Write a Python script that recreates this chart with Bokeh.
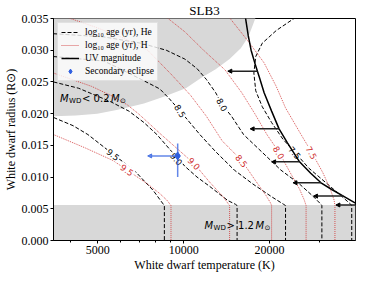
from bokeh.plotting import figure
from bokeh.models import (Range1d, FixedTicker, NumeralTickFormatter, Legend, LegendItem,
                          Arrow, NormalHead, ColumnDataSource)
from bokeh.core.properties import value
from bokeh.embed import file_html
from bokeh.resources import INLINE

# ---------------- data ----------------
x_min, x_max = 3500, 40000
y_min, y_max = 0.0, 0.035
x_major = [5000, 10000, 20000]
x_minor = [4000, 6000, 7000, 8000, 9000, 30000]
y_ticks = [0.0, 0.005, 0.010, 0.015, 0.020, 0.025, 0.030, 0.035]

# He-atmosphere isochrones (log10 age), black dashed
he_95_T = [3500, 4100, 4620, 5660, 6730, 7820, 8430, 8560, 8560]
he_95_R = [0.0194, 0.0181, 0.0167, 0.0136, 0.0110, 0.0079, 0.0059, 0.0055, 0.0]
he_90_T = [3500, 4290, 5540, 6430, 7260, 8060, 9090, 9590, 10100, 11140, 12280, 14280, 15200, 15390, 15390]
he_90_R = [0.0250, 0.0240, 0.0219, 0.0204, 0.0186, 0.0167, 0.0140, 0.0129, 0.0117, 0.0100, 0.0086, 0.0063, 0.0057, 0.0055, 0.0]
he_85_T = [3500, 5250, 6100, 7100, 8250, 8890, 9730, 10330, 11400, 12950, 15050, 17490, 20330, 22410, 22750, 22750]
he_85_R = [0.0290, 0.0283, 0.0269, 0.0254, 0.0239, 0.0224, 0.0204, 0.0190, 0.0167, 0.0140, 0.0111, 0.0089, 0.0069, 0.0057, 0.0055, 0.0]
he_80_T = [3500, 5250, 7100, 8690, 10100, 11140, 12010, 12950, 13650, 14710, 16220, 18850, 21910, 25470, 28510, 30280, 30500, 30500]
he_80_R = [0.0326, 0.0321, 0.0311, 0.0300, 0.0286, 0.0271, 0.0254, 0.0233, 0.0214, 0.0196, 0.0167, 0.0139, 0.0111, 0.0089, 0.0069, 0.0057, 0.0055, 0.0]
he_75_T = [27040, 24530, 21100, 18850, 17890, 17620, 17890, 18850, 20330, 22250, 24530, 27460, 31910, 35720, 38510, 38800, 38800]
he_75_R = [0.0360, 0.0351, 0.0331, 0.0311, 0.0290, 0.0264, 0.0236, 0.0211, 0.0186, 0.0160, 0.0139, 0.0114, 0.0089, 0.0070, 0.0057, 0.0055, 0.0]

# H-atmosphere isochrones, red dotted
h_95_T = [3500, 4520, 5660, 6340, 7480, 8250, 8760, 8960, 9030, 9030]
h_95_R = [0.0167, 0.0146, 0.0126, 0.0111, 0.0089, 0.0074, 0.0063, 0.0057, 0.0055, 0.0]
h_90_T = [3500, 4760, 5660, 6340, 6940, 8250, 9590, 10890, 12280, 13750, 14380, 14490, 14490]
h_90_R = [0.0264, 0.0243, 0.0227, 0.0214, 0.0200, 0.0169, 0.0143, 0.0121, 0.0093, 0.0069, 0.0057, 0.0055, 0.0]
h_85_T = [3830, 3950, 4870, 6100, 7480, 9090, 10570, 12010, 13650, 15980, 17750, 19430, 20170, 20330, 20330]
h_85_R = [0.0360, 0.0351, 0.0337, 0.0320, 0.0300, 0.0261, 0.0229, 0.0196, 0.0157, 0.0126, 0.0096, 0.0071, 0.0059, 0.0055, 0.0]
h_80_T = [8370, 8760, 10100, 11740, 13960, 15980, 17750, 19580, 21590, 23620, 25470, 26450, 26850, 26850]
h_80_R = [0.0360, 0.0351, 0.0329, 0.0300, 0.0269, 0.0233, 0.0200, 0.0167, 0.0139, 0.0107, 0.0081, 0.0064, 0.0055, 0.0]
h_75_T = [13850, 14490, 16840, 19140, 21100, 22750, 25860, 28090, 30730, 32640, 33640, 33890, 33890]
h_75_R = [0.0360, 0.0351, 0.0314, 0.0280, 0.0243, 0.0209, 0.0166, 0.0139, 0.0107, 0.0081, 0.0064, 0.0055, 0.0]

# contour labels
he_lab_T = [5660, 9440, 9730, 13650, 24530]
he_lab_R = [0.01357, 0.01286, 0.02043, 0.02143, 0.01386]
he_lab_text = ["9.5", "9.0", "8.5", "8.0", "7.5"]
he_lab_angle = [-0.68, -0.85, -1.0, -1.1, -0.85]
h_lab_T = [6340, 10890, 15980, 21590, 28090]
h_lab_R = [0.01114, 0.01214, 0.01257, 0.01386, 0.01386]
h_lab_text = ["9.5", "9.0", "8.5", "8.0", "7.5"]
h_lab_angle = [-0.61, -0.82, -0.89, -1.03, -1.06]

# UV magnitude limit
uv_T = [16345, 16470, 16840, 17230, 17750, 18430, 19140, 20330, 21590, 23100, 25470, 27870, 30280, 33140, 36260, 39980, 43500]
uv_R = [0.0360, 0.0351, 0.0323, 0.0300, 0.0280, 0.0257, 0.0233, 0.0204, 0.0176, 0.0154, 0.0124, 0.0106, 0.0091, 0.0080, 0.0070, 0.0059, 0.0055]
arrow_R = [0.0267, 0.0176, 0.0124, 0.0091, 0.0070, 0.0056]
arrow_T_from = [18160, 21590, 25470, 30280, 36260, 43200]
arrow_T_to = [14280, 17100, 20330, 24160, 28510, 34150]

# low-mass (<0.2 Msun) excluded region boundary and high-mass band
lowmass_T = [3500, 4190, 4980, 5880, 7260, 8560, 10180, 11570, 12950, 14490, 15860, 16840, 17490, 17890, 3500]
lowmass_R = [0.0196, 0.0197, 0.0200, 0.0206, 0.0216, 0.0227, 0.0240, 0.0257, 0.0270, 0.0286, 0.0303, 0.0321, 0.0340, 0.0352, 0.0360]
highmass_R_top = 0.0056

# secondary eclipse measurement
ecl_T = 9530
ecl_R = 0.01333
ecl_R_lo = 0.0100
ecl_R_hi = 0.0153
ecl_T_lim = 7480
ecl_T_hi = 9710

SERIF = "Liberation Serif"
RED = "#d03030"
BLUE = "#2f5fe0"

p = figure(width=358, height=274, x_axis_type="log",
           x_range=Range1d(x_min, x_max), y_range=Range1d(y_min, y_max),
           output_backend="svg", toolbar_location=None,
           min_border_left=40, min_border_right=3, min_border_top=0, min_border_bottom=26)
p.title.text = "SLB3"
p.title.align = "center"
p.title.text_font = SERIF
p.title.text_font_size = "13px"
p.title.text_font_style = "normal"
p.title.text_color = "black"
p.title.standoff = 1
p.title.offset = 0
p.background_fill_color = "white"
p.border_fill_color = "white"
p.outline_line_color = "black"
p.outline_line_width = 1
p.xgrid.visible = False
p.ygrid.visible = False

# excluded regions
p.patch(lowmass_T, lowmass_R, fill_color="#d8d8d8", line_color=None)
p.quad(left=[x_min], right=[x_max], bottom=[y_min], top=[highmass_R_top], fill_color="#d8d8d8", line_color=None)

# isochrones
he_r = []
for T, R in [(he_95_T, he_95_R), (he_90_T, he_90_R), (he_85_T, he_85_R), (he_80_T, he_80_R), (he_75_T, he_75_R)]:
    he_r.append(p.line(T, R, line_color="black", line_width=1, line_dash="4 2"))
h_r = []
for T, R in [(h_95_T, h_95_R), (h_90_T, h_90_R), (h_85_T, h_85_R), (h_80_T, h_80_R), (h_75_T, h_75_R)]:
    h_r.append(p.line(T, R, line_color=RED, line_width=0.9, line_dash="1 1", line_alpha=0.9))

# contour labels
p.text(x=he_lab_T, y=he_lab_R, text=he_lab_text, angle=he_lab_angle,
       text_align="center", text_baseline="middle", text_font=value("DejaVu Sans"),
       text_font_size=value("8.5px"), text_color="black",
       background_fill_color="white", padding=1)
p.text(x=h_lab_T, y=h_lab_R, text=h_lab_text, angle=h_lab_angle,
       text_align="center", text_baseline="middle", text_font=value("DejaVu Sans"),
       text_font_size=value("8.5px"), text_color=RED,
       background_fill_color="white", padding=1)

# UV limit and arrows
uv_r = p.line(uv_T, uv_R, line_color="black", line_width=1.5)
arr_src = ColumnDataSource(dict(x0=arrow_T_from, x1=arrow_T_to, y=arrow_R))
p.add_layout(Arrow(end=NormalHead(size=4, fill_color="black", line_color="black"),
                   x_start="x0", y_start="y", x_end="x1", y_end="y", source=arr_src,
                   line_color="#222222", line_width=1.5))

def mass_label(x, y, rel):
    p.text(x=[x], y=[y], text=["M"], text_font=value("DejaVu Sans"), text_font_style="italic",
           text_font_size=value("10px"), text_baseline="middle")
    p.text(x=[x], y=[y], text=["WD"], x_offset=9, y_offset=3, text_font=value("DejaVu Sans"),
           text_font_size=value("7px"), text_baseline="middle")
    p.text(x=[x], y=[y], text=[rel], x_offset=22, text_font=value("DejaVu Sans"),
           text_font_size=value("10px"), text_baseline="middle")
    p.text(x=[x], y=[y], text=["M"], x_offset=51, text_font=value("DejaVu Sans"), text_font_style="italic",
           text_font_size=value("10px"), text_baseline="middle")
    p.text(x=[x], y=[y], text=["\u2299"], x_offset=60, y_offset=3, text_font=value("DejaVu Sans"),
           text_font_size=value("7px"), text_baseline="middle")

mass_label(3690, 0.0224, "< 0.2")
mass_label(11830, 0.0024, "> 1.2")

# secondary eclipse
p.segment(x0=[ecl_T], y0=[ecl_R_lo], x1=[ecl_T], y1=[ecl_R_hi], line_color=BLUE, line_width=1.5, line_alpha=0.75)
p.add_layout(Arrow(end=NormalHead(size=4, fill_color=BLUE, line_color=BLUE, fill_alpha=0.75, line_alpha=0.75),
                   x_start=ecl_T_hi, y_start=ecl_R, x_end=ecl_T_lim, y_end=ecl_R,
                   line_color=BLUE, line_width=1.5, line_alpha=0.75))
ecl_r = p.scatter([ecl_T], [ecl_R], marker="diamond", size=8, fill_color=BLUE, line_color=BLUE)

# axes
p.xaxis.ticker = FixedTicker(ticks=x_major, minor_ticks=x_minor)
p.xaxis.formatter = NumeralTickFormatter(format="0")
p.yaxis.ticker = FixedTicker(ticks=y_ticks, minor_ticks=[])
p.yaxis.formatter = NumeralTickFormatter(format="0.000")
p.xaxis.axis_label = "White dwarf temperature (K)"
p.yaxis.axis_label = "White dwarf radius (R\u2299)"
for ax in (p.xaxis, p.yaxis):
    ax.axis_label_text_font = SERIF
    ax.axis_label_text_font_size = "12px"
    ax.axis_label_text_font_style = "normal"
    ax.axis_label_text_color = "black"
    ax.axis_label_standoff = 1
    ax.major_label_text_font = SERIF
    ax.major_label_text_font_size = "12px"
    ax.major_label_text_color = "black"
    ax.major_label_standoff = 2
    ax.major_tick_in = 0
    ax.major_tick_out = 3
    ax.minor_tick_in = 0
    ax.minor_tick_out = 2
    ax.axis_line_color = "black"
    ax.major_tick_line_color = "black"
    ax.minor_tick_line_color = "black"

legend = Legend(items=[
    LegendItem(label="log\u2081\u2080 age (yr), He", renderers=[he_r[0]]),
    LegendItem(label="log\u2081\u2080 age (yr), H", renderers=[h_r[0]]),
    LegendItem(label="UV magnitude", renderers=[uv_r]),
    LegendItem(label="Secondary eclipse", renderers=[ecl_r]),
], location="top_left")
legend.margin = 4
legend.padding = 3
legend.spacing = 1
legend.label_height = 12
legend.glyph_height = 12
legend.glyph_width = 18
legend.label_standoff = 6
legend.label_text_font = SERIF
legend.label_text_font_size = "9.5px"
legend.label_text_color = "black"
legend.background_fill_alpha = 0.8
legend.border_line_color = "#cccccc"
legend.border_line_width = 1
p.add_layout(legend)

open("out.html", "w").write(file_html(p, INLINE))
